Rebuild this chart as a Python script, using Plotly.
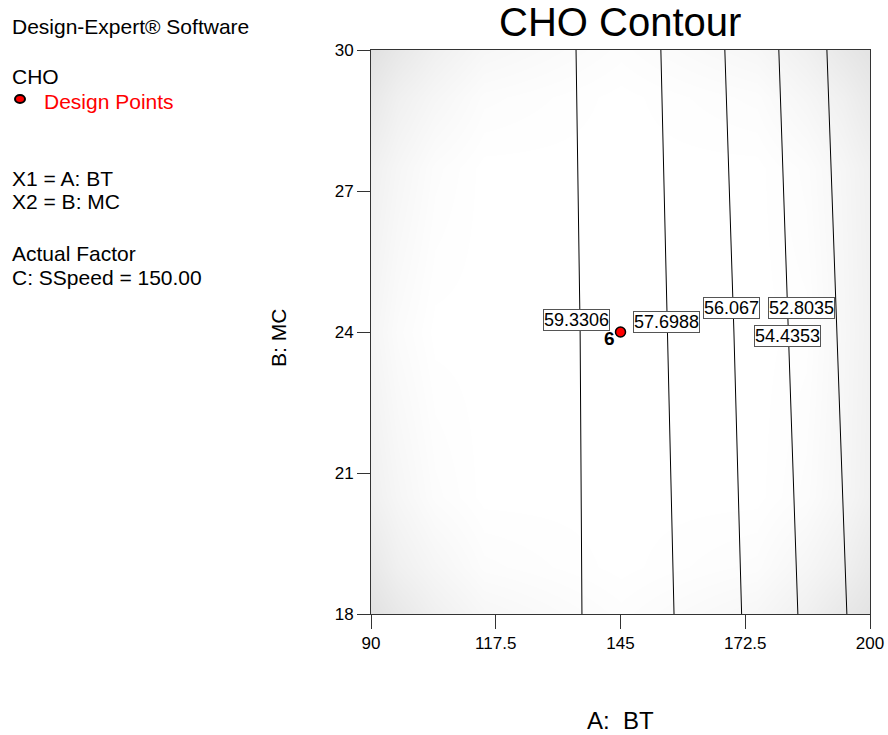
import plotly.graph_objects as go

# ---- data ----
levels = [59.3306, 57.6988, 56.067, 54.4353, 52.8035]
line_y = [18, 24, 30]
line_x = [
    [136.5, 136.1, 135.2],
    [156.8, 155.3, 153.9],
    [171.7, 170.0, 168.0],
    [184.1, 182.0, 179.9],
    [194.9, 192.7, 190.5],
]
label_x = [135.4, 155.2, 169.5, 181.9, 185.0]
label_y = [24.26, 24.22, 24.52, 23.91, 24.52]

design_x = [145]
design_y = [24]
design_count = ["6"]

# background standard-error style shading (brightness 0-255), read by eye
shade_x = [90, 96, 104, 115, 145, 175, 186, 194, 200]
shade_y = [18, 19, 20.5, 24, 27.5, 29, 30]
shade_z = [
    [225, 232, 240, 247, 253, 247, 240, 232, 227],
    [232, 240, 246, 252, 255, 252, 246, 240, 233],
    [240, 246, 252, 255, 255, 255, 252, 246, 240],
    [245, 251, 255, 255, 255, 255, 254, 247, 241],
    [240, 246, 252, 255, 255, 255, 252, 246, 240],
    [232, 240, 246, 252, 255, 252, 246, 240, 233],
    [225, 232, 240, 247, 253, 247, 240, 232, 227],
]

x_ticks = [90, 117.5, 145, 172.5, 200]
x_ticktext = ["90", "117.5", "145", "172.5", "200"]
y_ticks = [18, 21, 24, 27, 30]
y_ticktext = ["18", "21", "24", "27", "30"]

side_text = [
    ("Design-Expert® Software", 27, "black"),
    ("CHO", 76, "black"),
    ("Design Points", 101, "red"),
    ("X1 = A: BT", 178, "black"),
    ("X2 = B: MC", 202, "black"),
    ("Actual Factor", 253, "black"),
    ("C: SSpeed = 150.00", 277, "black"),
]

FONT = "Liberation Sans, Arial, sans-serif"
W, H = 888, 735
L, R, T, B = 371, 18, 50, 121
PW, PH = W - L - R, H - T - B


def px(xp):
    return (xp - L) / PW


def py(yp):
    return (H - B - yp) / PH


fig = go.Figure()

fig.add_trace(go.Heatmap(
    x=shade_x, y=shade_y, z=shade_z, zsmooth="best",
    colorscale=[[0, "rgb(225,225,225)"], [1, "rgb(255,255,255)"]],
    zmin=225, zmax=255, showscale=False, hoverinfo="skip",
))

for i, lv in enumerate(levels):
    fig.add_trace(go.Scatter(
        x=line_x[i], y=line_y, mode="lines",
        line=dict(color="black", width=1), showlegend=False,
        name=str(lv), hoverinfo="name",
    ))

fig.add_trace(go.Scatter(
    x=design_x, y=design_y, mode="markers",
    marker=dict(color="red", size=10, line=dict(color="black", width=1.5)),
    showlegend=False,
))

annotations = []
for i in range(len(levels)):
    annotations.append(dict(
        x=label_x[i], y=label_y[i], xref="x", yref="y",
        text=f"{levels[i]:g}", showarrow=False,
        font=dict(family=FONT, size=18, color="black"),
        bgcolor="white", bordercolor="#555555", borderwidth=1, borderpad=0,
    ))

for xv, yv, t in zip(design_x, design_y, design_count):
    annotations.append(dict(
        x=xv, y=yv, xref="x", yref="y", text=f"<b>{t}</b>", showarrow=False,
        xanchor="right", xshift=-4, yshift=-6,
        font=dict(family=FONT, size=19, color="black"),
    ))

for txt, ypix, col in side_text:
    xpix = 42 if txt == "Design Points" else 10
    annotations.append(dict(
        x=px(xpix), y=py(ypix), xref="paper", yref="paper", text=txt,
        showarrow=False, xanchor="left", yanchor="middle",
        font=dict(family=FONT, size=21, color=col),
    ))

# axis titles and chart title
annotations.append(dict(
    x=px(620), y=py(22), xref="paper", yref="paper", text="CHO Contour",
    showarrow=False, xanchor="center", yanchor="middle",
    font=dict(family=FONT, size=40, color="black"),
))
annotations.append(dict(
    x=px(620), y=py(720), xref="paper", yref="paper", text="A:  BT",
    showarrow=False, xanchor="center", yanchor="middle",
    font=dict(family=FONT, size=24, color="black"),
))
annotations.append(dict(
    x=px(278), y=py(338), xref="paper", yref="paper", text="B: MC",
    showarrow=False, xanchor="center", yanchor="middle", textangle=-90,
    font=dict(family=FONT, size=21, color="black"),
))

shapes = [dict(
    type="circle", xref="paper", yref="paper",
    xsizemode="pixel", ysizemode="pixel",
    xanchor=px(20), yanchor=py(99), x0=-5, x1=5, y0=-4, y1=4,
    fillcolor="red", line=dict(color="black", width=2),
)]

fig.update_layout(
    width=W, height=H, autosize=False,
    margin=dict(l=L, r=R, t=T, b=B, pad=0, autoexpand=False),
    paper_bgcolor="white", plot_bgcolor="white",
    showlegend=False,
    annotations=annotations, shapes=shapes,
    font=dict(family=FONT, color="black"),
    xaxis=dict(
        range=[90, 200], tickvals=x_ticks, ticktext=x_ticktext,
        ticks="outside", ticklen=14, tickcolor="#333333", tickwidth=1,
        showline=True, linecolor="#333333", linewidth=1, mirror=True,
        showgrid=False, zeroline=False, automargin=False,
        tickfont=dict(family=FONT, size=17, color="black"),
    ),
    yaxis=dict(
        range=[18, 30], tickvals=y_ticks, ticktext=y_ticktext,
        ticks="outside", ticklen=13, tickcolor="#333333", tickwidth=1,
        showline=True, linecolor="#333333", linewidth=1, mirror=True,
        showgrid=False, zeroline=False, automargin=False,
        tickfont=dict(family=FONT, size=17, color="black"),
    ),
)

fig.write_html("out.html")
